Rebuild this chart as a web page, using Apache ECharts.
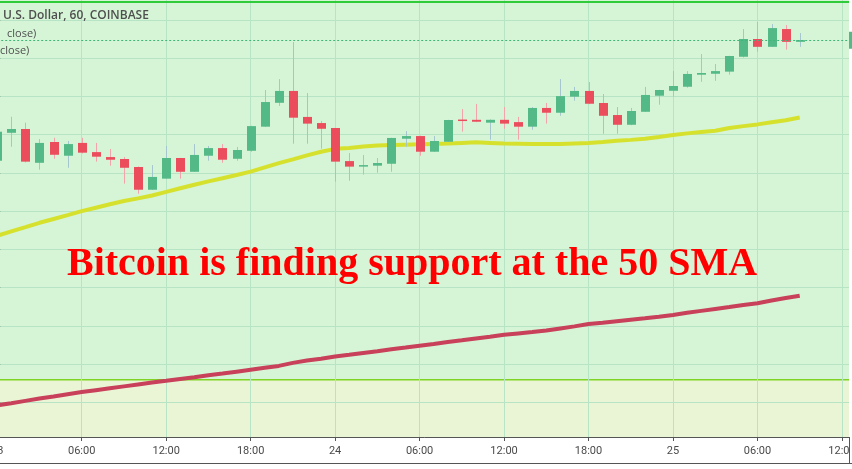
<!DOCTYPE html>
<html>
<head>
<meta charset="utf-8">
<script src="https://cdn.jsdelivr.net/npm/echarts@6/dist/echarts.min.js"></script>
<style>
html,body{margin:0;padding:0;background:#ffffff;}
#chart{width:852px;height:469px;}
</style>
</head>
<body>
<div id="chart"></div>
<script>
// ---- Data (hourly BTC/USD candles, Coinbase, from 23rd 00:00) ----
const hourTicks = [0, 6, 12, 18, 24, 30, 36, 42, 48, 54, 60];
const hourTickLabels = ['23', '06:00', '12:00', '18:00', '24', '06:00', '12:00', '18:00', '25', '06:00', '12:00'];
const priceGridValues = [4180, 4160, 4140, 4120, 4100, 4080, 4060, 4040, 4020, 4000, 3980];
const priceMin = 3961.8;
const priceMax = 4190.5;
const hourMax = 60.5;

const openPrices = [4106.4, 4121.0, 4123.0, 4105.3, 4116.2, 4109.0, 4115.7, 4110.9, 4108.3, 4107.3,
  4103.1, 4091.2, 4097.0, 4107.8, 4100.6, 4109.0, 4113.0, 4107.4, 4111.6, 4124.2,
  4136.7, 4142.9, 4129.3, 4126.1, 4123.5, 4106.2, 4103.3, 4103.8, 4104.8, 4117.9,
  4119.3, 4111.1, 4116.3, 4127.8, 4127.8, 4126.3, 4127.8, 4126.6, 4124.2, 4134.0,
  4131.5, 4139.9, 4142.9, 4136.6, 4130.3, 4125.2, 4132.0, 4140.4, 4143.0, 4145.1,
  4151.4, 4151.9, 4153.0, 4160.8, 4170.1, 4166.0, 4175.3, 4168.6];
const closePrices = [4121.6, 4123.0, 4105.9, 4115.7, 4109.5, 4115.1, 4110.6, 4108.5, 4106.9, 4102.7,
  4091.2, 4097.9, 4107.8, 4100.6, 4109.4, 4113.0, 4106.9, 4112.0, 4124.5, 4137.1,
  4142.9, 4128.9, 4125.8, 4123.1, 4105.9, 4103.3, 4104.1, 4105.2, 4118.3, 4119.3,
  4111.1, 4116.7, 4127.7, 4127.3, 4126.8, 4127.8, 4125.8, 4124.2, 4134.0, 4131.5,
  4140.2, 4142.9, 4136.2, 4129.9, 4125.2, 4132.4, 4140.8, 4143.4, 4145.5, 4151.8,
  4152.3, 4153.3, 4161.2, 4170.1, 4166.0, 4175.8, 4168.6, 4169.5];
const highPrices = [4123.5, 4129.4, 4126.3, 4117.7, 4118.4, 4116.7, 4118.4, 4115.7, 4112.5, 4108.3,
  4103.4, 4104.1, 4114.1, 4107.9, 4115.1, 4114.1, 4115.1, 4113.6, 4124.7, 4143.4,
  4149.1, 4168.5, 4141.8, 4127.2, 4123.6, 4110.4, 4109.4, 4107.8, 4118.4, 4121.9,
  4119.5, 4119.3, 4127.8, 4133.4, 4136.1, 4128.0, 4134.5, 4129.3, 4134.5, 4136.6,
  4149.1, 4145.0, 4147.6, 4141.3, 4134.5, 4134.0, 4145.0, 4143.5, 4153.3, 4153.3,
  4162.2, 4157.0, 4161.3, 4175.3, 4179.0, 4177.9, 4177.4, 4173.2];
const lowPrices = [4105.7, 4113.7, 4105.5, 4101.7, 4107.4, 4102.7, 4110.2, 4105.9, 4103.8, 4094.4,
  4089.1, 4091.1, 4096.8, 4097.0, 4100.5, 4106.4, 4105.3, 4106.4, 4111.1, 4124.0,
  4135.0, 4115.3, 4115.3, 4112.7, 4095.4, 4095.9, 4099.1, 4100.1, 4100.6, 4113.7,
  4109.0, 4111.0, 4116.2, 4121.6, 4126.6, 4117.4, 4123.1, 4117.4, 4122.6, 4125.8,
  4129.9, 4137.8, 4136.0, 4120.5, 4120.5, 4125.0, 4131.9, 4135.7, 4139.9, 4144.6,
  4147.7, 4148.2, 4151.4, 4160.4, 4163.4, 4165.9, 4164.5, 4166.0];
const sma50 = [4067.1, 4069.4, 4071.6, 4073.9, 4075.9, 4077.9, 4080.0, 4081.8, 4083.6, 4085.3,
  4086.7, 4088.2, 4090.1, 4092.0, 4093.8, 4095.6, 4097.2, 4098.9, 4100.7, 4102.9,
  4105.1, 4107.1, 4109.2, 4111.1, 4112.6, 4113.1, 4113.8, 4114.3, 4114.6, 4114.8,
  4115.0, 4115.2, 4115.4, 4115.7, 4116.0, 4115.7, 4115.4, 4115.3, 4115.2, 4115.1,
  4115.1, 4115.4, 4115.7, 4116.2, 4116.8, 4117.3, 4117.9, 4118.8, 4119.8, 4120.7,
  4121.4, 4122.1, 4123.5, 4124.5, 4125.4, 4126.5, 4127.6, 4129.0];
const sma100 = [3978.4, 3979.5, 3980.7, 3981.9, 3983.0, 3984.2, 3985.3, 3986.3, 3987.3, 3988.3,
  3989.3, 3990.3, 3991.2, 3992.2, 3993.1, 3994.1, 3995.0, 3996.0, 3997.0, 3998.0,
  3999.0, 4000.6, 4001.8, 4002.8, 4003.9, 4004.8, 4005.8, 4006.7, 4007.7, 4008.6,
  4009.6, 4010.5, 4011.5, 4012.4, 4013.4, 4014.3, 4015.3, 4016.0, 4016.7, 4017.5,
  4018.6, 4019.7, 4020.9, 4021.6, 4022.4, 4023.2, 4023.9, 4024.7, 4025.7, 4026.8,
  4027.8, 4028.8, 4029.8, 4030.9, 4031.8, 4033.2, 4034.5, 4035.7];
const zoneTopLine = 4189.4;     // bright green horizontal line
const zoneBoundary = 3991.7;    // lower zone boundary line

// ---- Build option ----
const candleData = openPrices.map((o, i) => [i, o, closePrices[i], lowPrices[i], highPrices[i]]);
const sma50Data = sma50.map((v, i) => [i, v]);
const sma100Data = sma100.map((v, i) => [i, v]);
const lastClose = closePrices[closePrices.length - 1];
const tickLabelMap = {};
hourTicks.forEach((h, i) => { tickLabelMap[h] = hourTickLabels[i]; });

const upColor = '#53b987', downColor = '#eb4d5c';
const upWick = '#a6c6cf', downWick = '#f4a3ad';
const gridColor = '#b8e4c6';

const chart = echarts.init(document.getElementById('chart'), null, {renderer: 'canvas'});
chart.setOption({
  animation: false,
  backgroundColor: '#ffffff',
  grid: {left: -2.8, right: 3, top: 0, bottom: 32, show: false, containLabel: false, outerBoundsMode: 'none'},
  xAxis: {
    type: 'value', min: 0, max: hourMax,
    axisLine: {show: true, onZero: false, lineStyle: {color: '#555555', width: 1}},
    axisTick: {show: true, customValues: hourTicks, length: 4, lineStyle: {color: '#555555'}},
    axisLabel: {customValues: hourTicks, formatter: v => tickLabelMap[v] || '', color: '#4a4a4a',
      fontSize: 11, fontFamily: 'Roboto', margin: 9},
    splitLine: {show: true, lineStyle: {color: gridColor, width: 1}}
  },
  yAxis: {
    type: 'value', position: 'right', min: priceMin, max: priceMax, scale: true,
    axisLine: {show: true, lineStyle: {color: '#555555', width: 1}},
    axisTick: {show: true, customValues: priceGridValues, length: 3, inside: false, lineStyle: {color: '#555555'}},
    axisLabel: {show: false},
    splitLine: {show: true, lineStyle: {color: gridColor, width: 1}}
  },
  series: [
    {
      name: 'upperZone', type: 'line', z: -2, silent: true, symbol: 'none',
      data: [[0, priceMax], [hourMax, priceMax]],
      lineStyle: {width: 0, opacity: 0},
      areaStyle: {color: '#d5f5d6', opacity: 1, origin: 'start'}
    },
    {
      name: 'lowerZone', type: 'line', z: -1, silent: true, symbol: 'none',
      data: [[0, zoneBoundary], [hourMax, zoneBoundary]],
      lineStyle: {width: 1.5, color: '#7fd323'},
      areaStyle: {color: '#eaf5d6', opacity: 1, origin: 'start'}
    },
    {
      name: 'topLine', type: 'line', z: 1, silent: true, symbol: 'none',
      data: [[0, zoneTopLine], [hourMax, zoneTopLine]],
      lineStyle: {width: 2, color: '#2fcb3a'}
    },
    {
      name: 'MA 100', type: 'line', z: 2, symbol: 'none', data: sma100Data,
      lineStyle: {width: 4, color: '#c8405a'}
    },
    {
      name: 'MA 50', type: 'line', z: 2, symbol: 'none', data: sma50Data,
      lineStyle: {width: 4, color: '#d6e12e'},
      markLine: {
        silent: true, symbol: 'none',
        lineStyle: {color: '#3fb57a', type: [2, 2], width: 1},
        label: {show: true, position: 'end', distance: 0, formatter: p => p.value.toFixed(2),
          backgroundColor: upColor, color: '#ffffff', padding: [3, 4], fontSize: 11},
        data: [{yAxis: lastClose}]
      }
    },
    {
      name: 'BTCUSD', type: 'custom', z: 3,
      data: candleData,
      encode: {x: 0, y: [1, 2, 3, 4]},
      renderItem: function (params, api) {
        const x = api.value(0), o = api.value(1), c = api.value(2), l = api.value(3), h = api.value(4);
        const pO = api.coord([x, o]), pC = api.coord([x, c]);
        const pL = api.coord([x, l]), pH = api.coord([x, h]);
        const up = c >= o;
        const cx = Math.round(pO[0]);
        const w = 9;
        let top = Math.min(pO[1], pC[1]);
        let bh = Math.abs(pO[1] - pC[1]);
        if (bh < 1.5) { top = (pO[1] + pC[1]) / 2 - 0.75; bh = 1.5; }
        return {
          type: 'group',
          children: [
            {type: 'line', shape: {x1: cx + 0.5, y1: pH[1], x2: cx + 0.5, y2: pL[1]},
              style: {stroke: up ? upWick : downWick, lineWidth: 1}},
            {type: 'rect', shape: {x: cx - 4, y: top, width: w, height: bh},
              style: {fill: up ? upColor : downColor}}
          ]
        };
      }
    }
  ],
  graphic: [
    {type: 'text', x: 3, y: 16, z: 50,
      style: {text: 'U.S. Dollar, 60, COINBASE', fontSize: 12, fontWeight: 600, fontFamily: 'Open Sans',
        fill: '#4f4f4f', textAlign: 'left', textVerticalAlign: 'middle', align: 'left', verticalAlign: 'middle'}},
    {type: 'text', x: 7, y: 33.5, z: 50,
      style: {text: 'close)', fontSize: 11, fontFamily: 'Open Sans',
        fill: '#4f4f4f', textAlign: 'left', textVerticalAlign: 'middle', align: 'left', verticalAlign: 'middle'}},
    {type: 'text', x: 0, y: 51, z: 50,
      style: {text: 'close)', fontSize: 11, fontFamily: 'Open Sans',
        fill: '#4f4f4f', textAlign: 'left', textVerticalAlign: 'middle', align: 'left', verticalAlign: 'middle'}},
    {type: 'text', x: 412, y: 265, z: 60,
      style: {text: 'Bitcoin is finding support at the 50 SMA', fontSize: 40, fontWeight: 'bold',
        fontFamily: '"Liberation Serif", "Times New Roman", serif',
        fill: '#ff0000', textAlign: 'center', textVerticalAlign: 'middle', align: 'center', verticalAlign: 'middle'}},
    {type: 'rect', z: 90, shape: {x: 849.5, y: 437.5, width: 3, height: 32}, style: {fill: '#ffffff'}},
    {type: 'line', z: 95, shape: {x1: 0, y1: 463.5, x2: 852, y2: 463.5}, style: {stroke: '#555555', lineWidth: 1}},
    {type: 'line', z: 95, shape: {x1: 849.5, y1: 437, x2: 849.5, y2: 464}, style: {stroke: '#555555', lineWidth: 1}}
  ]
});
</script>
</body>
</html>
